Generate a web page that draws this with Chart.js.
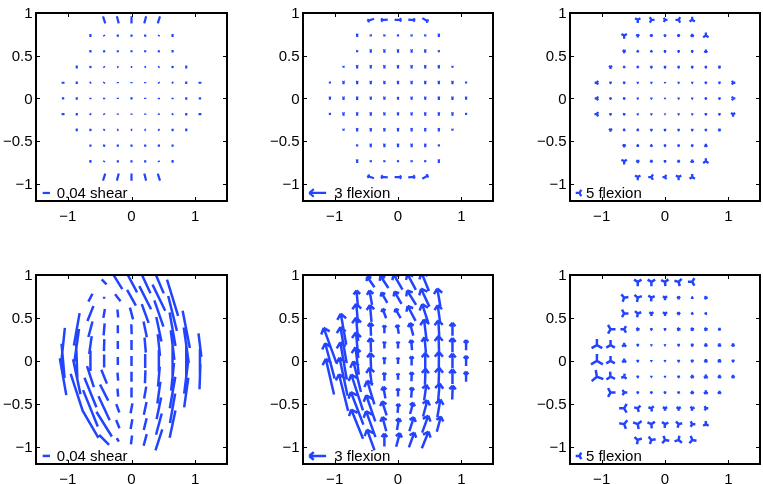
<!DOCTYPE html>
<html>
<head>
<meta charset="utf-8">
<script src="https://cdn.jsdelivr.net/npm/chart.js@4.4.1/dist/chart.umd.min.js"></script>
<style>
body { margin: 0; background: #fff; width: 763px; height: 484px; position: relative; overflow: hidden; }
canvas { position: absolute; }
</style>
</head>
<body>
<canvas id="c1"></canvas><canvas id="c2"></canvas><canvas id="c3"></canvas>
<canvas id="c4"></canvas><canvas id="c5"></canvas><canvas id="c6"></canvas>
<script>
// sample grid (rows top to bottom, each row spans -half..half columns)
const colX = [-1.075, -0.86, -0.645, -0.43, -0.215, 0, 0.215, 0.43, 0.645, 0.86, 1.075];
const rowY = [0.92, 0.736, 0.552, 0.368, 0.184, 0, -0.184, -0.368, -0.552, -0.736, -0.92];
const rowHalf = [2, 3, 3, 4, 5, 5, 5, 4, 3, 3, 2];
const xTicks = [-1, 0, 1];
const yTicks = [1, 0.5, 0, -0.5, -1];

// top left: shear, magnitude and orientation (deg)
const shearTopMag = [
  [0.04, 0.04, 0.04, 0.04, 0.04],
  [0.016, 0.008, 0.012, 0.012, 0.012, 0.008, 0.016],
  [0.013, 0.012, 0.011, 0.011, 0.011, 0.012, 0.013],
  [0.016, 0.013, 0.009, 0.008, 0.008, 0.008, 0.009, 0.013, 0.016],
  [0.016, 0.014, 0.009, 0.008, 0.007, 0.007, 0.007, 0.008, 0.009, 0.014, 0.016],
  [0.013, 0.013, 0.008, 0.008, 0.007, 0.012, 0.007, 0.008, 0.008, 0.013, 0.013],
  [0.016, 0.014, 0.009, 0.008, 0.007, 0.007, 0.007, 0.008, 0.009, 0.014, 0.016],
  [0.016, 0.013, 0.009, 0.008, 0.008, 0.008, 0.009, 0.013, 0.016],
  [0.013, 0.012, 0.011, 0.011, 0.011, 0.012, 0.013],
  [0.016, 0.008, 0.012, 0.012, 0.012, 0.008, 0.016],
  [0.04, 0.04, 0.04, 0.04, 0.04]
];
const shearTopAng = [
  [108, 105, 90, 75, 72],
  [90, 120, 90, 90, 90, 60, 90],
  [90, 100, 90, 90, 90, 80, 90],
  [90, 100, 135, 160, 0, 20, 45, 80, 90],
  [0, 90, 45, 60, 90, 90, 90, 120, 135, 90, 0],
  [0, 90, 90, 90, 90, 90, 90, 90, 90, 90, 0],
  [0, 90, 135, 120, 90, 90, 90, 60, 45, 90, 0],
  [90, 80, 45, 20, 0, 160, 135, 100, 90],
  [90, 80, 90, 90, 90, 100, 90],
  [90, 60, 90, 90, 90, 120, 90],
  [72, 75, 90, 105, 108]
];

// top middle: 3 flexion
const flexTopMag = [
  [1.2, 1.2, 1.2, 1.2, 1.2],
  [0.55, 0.3, 0.3, 0.3, 0.3, 0.3, 0.55],
  [0.3, 0.55, 0.55, 0.55, 0.55, 0.55, 0.3],
  [0.3, 0.55, 0.55, 0.55, 0.55, 0.55, 0.55, 0.55, 0.3],
  [0.3, 0.55, 0.55, 0.55, 0.5, 0.5, 0.5, 0.55, 0.55, 0.55, 0.3],
  [0.5, 0.55, 0.55, 0.5, 0.5, 0.45, 0.5, 0.5, 0.55, 0.55, 0.5],
  [0.3, 0.55, 0.55, 0.55, 0.5, 0.5, 0.5, 0.55, 0.55, 0.55, 0.3],
  [0.3, 0.55, 0.55, 0.55, 0.55, 0.55, 0.55, 0.55, 0.3],
  [0.3, 0.55, 0.55, 0.55, 0.55, 0.55, 0.3],
  [0.55, 0.3, 0.3, 0.3, 0.3, 0.3, 0.55],
  [1.2, 1.2, 1.2, 1.2, 1.2]
];
const flexTopAng = [
  [200, 185, 0, -5, -30],
  [90, 90, 90, 90, 90, 90, 90],
  [90, 90, 90, 90, 90, 90, 90],
  [90, 90, 90, 90, 90, 90, 90, 90, 90],
  [90, 90, 90, 90, 90, 90, 90, 90, 90, 90, 90],
  [90, 90, 90, 90, 90, 90, 90, 90, 90, 90, 90],
  [90, 90, 90, 90, 90, 90, 90, 90, 90, 90, 90],
  [90, 90, 90, 90, 90, 90, 90, 90, 90],
  [90, 90, 90, 90, 90, 90, 90],
  [90, 90, 90, 90, 90, 90, 90],
  [160, 175, 0, 5, 30]
];

// top right: 5 flexion
const triTopMag = [
  [4.2, 4.2, 3.3, 4.2, 4.2],
  [4.2, 2.5, 2, 1.7, 2, 2.5, 4.2],
  [2.5, 1.7, 1.7, 1.7, 1.7, 1.7, 2.5],
  [2.5, 1.7, 1.7, 1.7, 1.7, 1.7, 1.7, 1.7, 2],
  [3, 1.7, 1.7, 1.3, 1.3, 1, 1.3, 1.3, 1.7, 1.7, 3],
  [3, 1.7, 1.7, 1.3, 1.3, 1, 1.3, 1.3, 1.7, 1.7, 3],
  [3.3, 1.7, 1.7, 1.3, 1.3, 1, 1.3, 1.3, 1.7, 1.7, 3.3],
  [2.5, 1.7, 1.7, 1.7, 1.7, 1.7, 1.7, 1.7, 2],
  [2.5, 1.7, 1.7, 1.7, 1.7, 1.7, 2.5],
  [4.2, 2.5, 2, 1.7, 2, 2.5, 4.2],
  [4.2, 4.2, 3.3, 4.2, 4.2]
];
const triTopAng = [
  [270, 0, 0, 60, 90],
  [270, 270, 270, 90, 90, 90, 90],
  [270, 270, 270, 90, 90, 90, 90],
  [270, 270, 270, 90, 90, 90, 90, 90, 90],
  [180, 90, 90, 90, 90, 90, 90, 90, 90, 90, 0],
  [180, 90, 90, 90, 90, 90, 90, 90, 90, 90, 0],
  [180, 90, 90, 90, 90, 90, 90, 90, 90, 90, 270],
  [270, 270, 270, 90, 90, 90, 90, 90, 90],
  [270, 270, 270, 90, 90, 90, 90],
  [270, 270, 270, 90, 90, 90, 90],
  [270, 180, 180, 150, 90]
];

// bottom left: shear
const shearLowMag = [
  [0.038, 0.093, 0.13, 0.137, 0.137],
  [0.049, 0.011, 0.049, 0.099, 0.142, 0.159, 0.208],
  [0.088, 0.049, 0.044, 0.066, 0.11, 0.153, 0.197],
  [0.18, 0.088, 0.066, 0.044, 0.055, 0.088, 0.137, 0.186, 0.208],
  [0.19, 0.18, 0.099, 0.066, 0.044, 0.055, 0.082, 0.12, 0.164, 0.197, 0.13],
  [0.19, 0.19, 0.11, 0.071, 0.044, 0.055, 0.077, 0.12, 0.164, 0.197, 0.137],
  [0.205, 0.195, 0.121, 0.082, 0.044, 0.055, 0.071, 0.11, 0.153, 0.186, 0.137],
  [0.215, 0.175, 0.099, 0.044, 0.055, 0.066, 0.121, 0.175, 0.164],
  [0.215, 0.145, 0.049, 0.055, 0.071, 0.121, 0.164],
  [0.175, 0.16, 0.049, 0.055, 0.066, 0.121, 0.153],
  [0.077, 0.022, 0.049, 0.066, 0.121]
];
const shearLowAng = [
  [135, 122, 118, 115, 113],
  [63, 90, 128, 119, 117, 116, 107],
  [68, 80, 95, 105, 110, 109, 104],
  [80, 75, 85, 90, 92, 102, 102, 100, 101],
  [84, 82, 82, 88, 90, 90, 95, 96, 97, 98, 97],
  [95, 92, 90, 90, 90, 90, 90, 90, 90, 90, 90],
  [100, 102, 108, 112, 95, 90, 88, 85, 84, 83, 88],
  [108, 112, 117, 95, 90, 80, 82, 80, 82],
  [112, 115, 110, 80, 78, 78, 80],
  [120, 122, 112, 80, 76, 75, 78],
  [135, 120, 83, 75, 72]
];

// bottom middle: 3 flexion
const flexLowMag = [
  [2.3, 2.6, 3.2, 3.2, 3.5],
  [2.6, 2.6, 2.1, 2.5, 3, 3.5, 3.3],
  [3.5, 3, 1.8, 1.9, 3, 3.5, 3],
  [5.6, 4.2, 2.3, 1.4, 1.6, 2.3, 3.5, 3.2, 2.3],
  [6.5, 6.5, 4.6, 2.5, 1.2, 1.2, 1.8, 2.8, 3.2, 2.5, 1.8],
  [6.5, 6.7, 4.9, 2.8, 1.2, 1.1, 1.6, 2.8, 3.2, 2.6, 1.8],
  [6.5, 6.9, 5.6, 3.2, 1.4, 1.1, 1.6, 2.8, 3.2, 2.6, 1.8],
  [6.7, 6.7, 4.4, 2.1, 1.4, 1.8, 2.8, 3.2, 2.5],
  [6.2, 4.9, 2.6, 1.6, 2.1, 3, 3.2],
  [5.6, 4.9, 2.6, 2.1, 2.6, 3.2, 2.8],
  [3.9, 2.3, 2.5, 2.8, 3.2]
];
const flexLowAng = [
  [125, 123, 120, 118, 112],
  [95, 100, 120, 120, 122, 115, 100],
  [95, 95, 110, 120, 118, 108, 98],
  [100, 95, 92, 90, 100, 105, 97, 93, 90],
  [110, 100, 95, 92, 90, 90, 95, 95, 92, 90, 90],
  [105, 100, 97, 92, 90, 90, 90, 90, 90, 90, 90],
  [103, 102, 104, 97, 90, 90, 88, 88, 88, 90, 90],
  [104, 108, 107, 100, 90, 85, 82, 85, 88],
  [111, 109, 108, 85, 75, 75, 80],
  [112, 110, 105, 80, 72, 70, 75],
  [110, 90, 75, 70, 68]
];

// bottom right: 5 flexion
const triLowMag = [
  [5.8, 5.8, 5.8, 5.8, 5.8],
  [5.8, 5.8, 5, 3.3, 2.5, 1.7, 2.5],
  [5.8, 5, 3.3, 3.3, 2.5, 1.7, 1.7],
  [6.7, 5, 2.5, 1.7, 1.7, 2.5, 2.5, 2.5, 2],
  [8.3, 6.7, 3.3, 1.7, 1.3, 1.3, 1.7, 2, 2.5, 2.5, 2.5],
  [9.2, 6.7, 3.3, 1.7, 1.3, 1.3, 1.7, 2, 2.5, 2.5, 2],
  [9.2, 6.7, 4.2, 1.7, 1.3, 1.3, 1.7, 2.5, 3, 2.5, 2.5],
  [6.7, 4.2, 1.7, 1.7, 1.7, 1.7, 2.5, 3, 2.5],
  [6.7, 5, 4.2, 3.3, 3.3, 3.3, 3.3],
  [6.7, 6.7, 5.8, 5, 5, 4.2, 4.2],
  [5.8, 5.8, 5.8, 5.8, 5.8]
];
const triLowAng = [
  [270, 270, 275, 285, 300],
  [250, 260, 265, 270, 270, 270, 0],
  [240, 260, 270, 270, 270, 270, 0],
  [120, 180, 0, 90, 90, 0, 0, 0, 90],
  [90, 90, 90, 90, 90, 90, 90, 90, 90, 90, 90],
  [90, 90, 90, 90, 90, 90, 90, 90, 90, 90, 90],
  [100, 95, 80, 90, 90, 90, 90, 90, 90, 90, 90],
  [0, 0, 90, 90, 90, 90, 90, 90, 90],
  [300, 285, 280, 270, 270, 260, 240],
  [290, 280, 275, 265, 255, 240, 210],
  [260, 250, 230, 200, 110]
];

const BLUE = 'rgb(34, 68, 255)';
const FONT = '15px "Liberation Sans", Arial, sans-serif';
const PAD = {left: 40, top: 6, right: 4, bottom: 26};

const panels = [
  {id: 'c1', left: 36, top: 13, w: 191, h: 188, kind: 'stick', mag: shearTopMag, ang: shearTopAng, unit: 2.866, lw: 2.2,
   legMag: 0.04, legAng: 0, legX: -1.338, legTextX: -1.175, legText: '0.04 shear'},
  {id: 'c2', left: 303, top: 13, w: 190, h: 188, kind: 'arrow', mag: flexTopMag, ang: flexTopAng, unit: 0.089, lw: 2.2,
   legMag: 3, legAng: 180, legX: -1.268, legTextX: -1.005, legText: '3 flexion'},
  {id: 'c3', left: 570, top: 13, w: 190, h: 188, kind: 'tri', mag: triTopMag, ang: triTopAng, unit: 0.0118, lw: 2.3,
   legMag: 5, legAng: 180, legX: -1.351, legTextX: -1.249, legText: '5 flexion'},
  {id: 'c4', left: 36, top: 275, w: 191, h: 189, kind: 'stick', mag: shearLowMag, ang: shearLowAng, unit: 2.866, lw: 2.5,
   legMag: 0.04, legAng: 0, legX: -1.338, legTextX: -1.175, legText: '0.04 shear'},
  {id: 'c5', left: 303, top: 275, w: 190, h: 189, kind: 'arrow', mag: flexLowMag, ang: flexLowAng, unit: 0.089, lw: 2.5,
   legMag: 3, legAng: 180, legX: -1.268, legTextX: -1.005, legText: '3 flexion'},
  {id: 'c6', left: 570, top: 275, w: 190, h: 189, kind: 'tri', mag: triLowMag, ang: triLowAng, unit: 0.0118, lw: 2.5,
   legMag: 5, legAng: 180, legX: -1.351, legTextX: -1.249, legText: '5 flexion'}
];

function glyph(ctx, kind, x, y, angDeg, len) {
  const a = angDeg * Math.PI / 180;
  const c = Math.cos(a), s = -Math.sin(a);
  if (kind === 'stick') {
    ctx.moveTo(x - c * len / 2, y - s * len / 2);
    ctx.lineTo(x + c * len / 2, y + s * len / 2);
  } else if (kind === 'arrow') {
    const tx = x + c * len / 2, ty = y + s * len / 2;
    ctx.moveTo(x - c * len / 2, y - s * len / 2);
    ctx.lineTo(tx, ty);
    const h = Math.min(len * 0.35, 7);
    for (const d of [0.7, -0.7]) {
      const b = a + Math.PI + d;
      ctx.moveTo(tx, ty);
      ctx.lineTo(tx + h * Math.cos(b), ty - h * Math.sin(b));
    }
  } else {
    for (let i = 0; i < 3; i++) {
      const b = a + i * 2 * Math.PI / 3;
      ctx.moveTo(x, y);
      ctx.lineTo(x + len * Math.cos(b), y - len * Math.sin(b));
    }
  }
}

function label(ctx, str, x, y, align) {
  ctx.save();
  ctx.font = FONT;
  ctx.fillStyle = '#000';
  ctx.textAlign = align;
  ctx.textBaseline = 'alphabetic';
  ctx.fillText(str, x, y);
  ctx.restore();
}

const fmt = v => (v < 0 ? '\u2212' + Math.abs(v) : String(v));

const fieldPlugin = {
  id: 'field',
  afterDatasetsDraw(chart) {
    const p = chart.options.plugins.field;
    const ctx = chart.ctx, area = chart.chartArea;
    const xs = chart.scales.x;
    const pxUnit = xs.getPixelForValue(1) - xs.getPixelForValue(0);
    const meta = chart.getDatasetMeta(0);
    const raw = chart.data.datasets[0].data;
    ctx.save();
    ctx.beginPath();
    ctx.rect(area.left, area.top, area.right - area.left, area.bottom - area.top);
    ctx.clip();
    ctx.strokeStyle = BLUE;
    ctx.lineWidth = p.lw;
    ctx.lineCap = 'butt';
    ctx.beginPath();
    meta.data.forEach((el, i) => {
      glyph(ctx, p.kind, el.x, el.y, raw[i].a, raw[i].m * p.unit * pxUnit);
    });
    ctx.stroke();
    ctx.restore();
  },
  afterDraw(chart) {
    const p = chart.options.plugins.field;
    const ctx = chart.ctx, area = chart.chartArea;
    const xs = chart.scales.x, ys = chart.scales.y;
    const pxUnit = xs.getPixelForValue(1) - xs.getPixelForValue(0);
    ctx.save();
    // box and inward ticks
    ctx.strokeStyle = '#000';
    ctx.lineWidth = 2;
    ctx.strokeRect(area.left, area.top, area.right - area.left, area.bottom - area.top);
    ctx.lineWidth = 1;
    ctx.beginPath();
    xTicks.forEach(v => {
      const px = Math.round(xs.getPixelForValue(v)) + 0.5;
      ctx.moveTo(px, area.bottom); ctx.lineTo(px, area.bottom - 4);
      ctx.moveTo(px, area.top); ctx.lineTo(px, area.top + 4);
    });
    yTicks.forEach(v => {
      const py = Math.round(ys.getPixelForValue(v)) + 0.5;
      ctx.moveTo(area.left, py); ctx.lineTo(area.left + 4, py);
      ctx.moveTo(area.right, py); ctx.lineTo(area.right - 4, py);
    });
    ctx.stroke();
    xTicks.forEach(v => label(ctx, fmt(v), xs.getPixelForValue(v), area.bottom + 19.5, 'center'));
    yTicks.forEach(v => label(ctx, fmt(v), area.left - 3.5, ys.getPixelForValue(v) + 5.3, 'right'));
    // key
    const ly = ys.getPixelForValue(-1.106);
    ctx.strokeStyle = BLUE;
    ctx.lineWidth = p.lw;
    ctx.beginPath();
    glyph(ctx, p.kind, xs.getPixelForValue(p.legX), ly, p.legAng, p.legMag * p.unit * pxUnit);
    ctx.stroke();
    label(ctx, p.legText, xs.getPixelForValue(p.legTextX), ly + 5.5, 'left');
    ctx.restore();
  }
};

panels.forEach(p => {
  const cv = document.getElementById(p.id);
  cv.width = p.w + PAD.left + PAD.right;
  cv.height = p.h + PAD.top + PAD.bottom;
  cv.style.left = (p.left - PAD.left) + 'px';
  cv.style.top = (p.top - PAD.top) + 'px';
  const pts = [];
  rowY.forEach((y, r) => {
    for (let k = -rowHalf[r]; k <= rowHalf[r]; k++) {
      const i = k + rowHalf[r];
      pts.push({x: colX[k + 5], y: y, m: p.mag[r][i], a: p.ang[r][i]});
    }
  });
  new Chart(cv, {
    type: 'scatter',
    data: {datasets: [{data: pts, pointRadius: 0, pointHoverRadius: 0}]},
    options: {
      responsive: false,
      animation: false,
      events: [],
      layout: {padding: PAD},
      scales: {
        x: {type: 'linear', min: -1.5, max: 1.5, display: false},
        y: {type: 'linear', min: -1.2, max: 1, display: false}
      },
      plugins: {
        legend: {display: false},
        tooltip: {enabled: false},
        field: {kind: p.kind, unit: p.unit, lw: p.lw, legMag: p.legMag, legAng: p.legAng,
                legX: p.legX, legTextX: p.legTextX, legText: p.legText}
      }
    },
    plugins: [fieldPlugin]
  });
});
</script>
</body>
</html>
